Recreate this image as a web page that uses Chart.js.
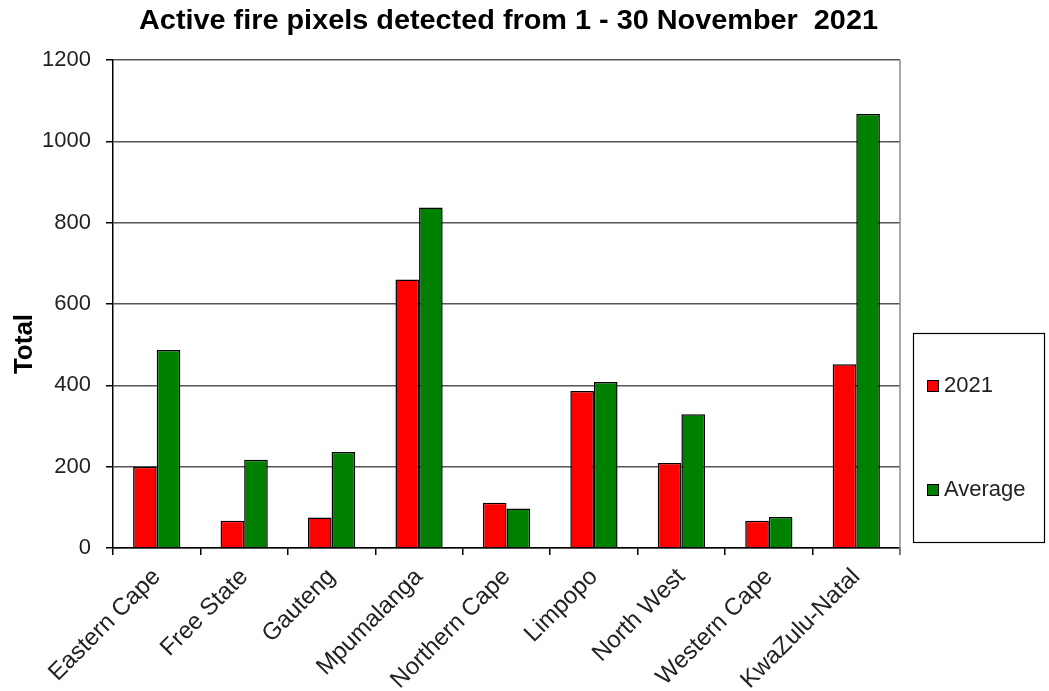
<!DOCTYPE html>
<html>
<head>
<meta charset="utf-8">
<script src="https://cdn.jsdelivr.net/npm/chart.js@4.4.0/dist/chart.umd.min.js"></script>
<style>
html,body{margin:0;padding:0;background:#fff;}
#wrap{width:1049px;height:691px;position:relative;}
</style>
</head>
<body>
<div id="wrap"><canvas id="c" width="1049" height="691"></canvas></div>
<script>
const categories = ["Eastern Cape","Free State","Gauteng","Mpumalanga","Northern Cape","Limpopo","North West","Western Cape","KwaZulu-Natal"];
const values2021 = [200, 67, 75, 660, 111, 386, 209, 67, 452];
const valuesAverage = [487, 217, 236, 837, 97, 408, 329, 76, 1067];
const yTicks = [0, 200, 400, 600, 800, 1000, 1200];
const titleText = "Active fire pixels detected from 1 - 30 November  2021";
const yTitle = "Total";

const FONT = "Arial, 'Liberation Sans', sans-serif";

const decor = {
  id: 'decor',
  afterDraw(chart) {
    const ctx = chart.ctx;
    const ca = chart.chartArea;
    ctx.save();
    // right border of plot area
    ctx.strokeStyle = '#8c8c8c';
    ctx.lineWidth = 1.5;
    ctx.beginPath();
    ctx.moveTo(ca.right, ca.top);
    ctx.lineTo(ca.right, ca.bottom + 7);
    ctx.stroke();
    // title
    ctx.fillStyle = '#000';
    ctx.font = "bold 28px " + FONT;
    ctx.textAlign = 'center';
    ctx.textBaseline = 'alphabetic';
    ctx.save();
    ctx.translate(508.5, 29);
    ctx.scale(1.03, 1);
    ctx.fillText(titleText, 0, 0);
    ctx.restore();
    // y title
    ctx.font = "bold 26px " + FONT;
    ctx.textBaseline = 'middle';
    ctx.translate(25, 344);
    ctx.rotate(-Math.PI / 2);
    ctx.fillText(yTitle, 0, 0);
    ctx.restore();
    // legend box
    ctx.save();
    ctx.strokeStyle = '#000';
    ctx.lineWidth = 1.2;
    ctx.strokeRect(913.5, 333.5, 131, 209);
    const items = chart.data.datasets;
    const ys = [386, 490];
    ctx.font = "22px " + FONT;
    ctx.textBaseline = 'middle';
    ctx.textAlign = 'left';
    items.forEach((ds, i) => {
      ctx.fillStyle = ds.backgroundColor;
      ctx.fillRect(927.5, ys[i] - 5.5, 11, 11);
      ctx.strokeStyle = '#000';
      ctx.lineWidth = 1;
      ctx.strokeRect(927.5, ys[i] - 5.5, 11, 11);
      ctx.fillStyle = '#222';
      ctx.fillText(ds.label, 944, ys[i]);
    });
    ctx.restore();
  }
};

new Chart(document.getElementById('c'), {
  type: 'bar',
  data: {
    labels: categories,
    datasets: [
      { label: '2021', data: values2021, backgroundColor: '#ff0000', borderColor: '#000', borderWidth: 1.5 },
      { label: 'Average', data: valuesAverage, backgroundColor: '#008000', borderColor: '#000', borderWidth: 1.5 }
    ]
  },
  options: {
    responsive: false,
    animation: false,
    devicePixelRatio: 1,
    layout: { padding: { top: 60, right: 149, left: 0, bottom: 0 } },
    plugins: { legend: { display: false }, title: { display: false }, tooltip: { enabled: false } },
    datasets: { bar: { categoryPercentage: 0.54, barPercentage: 1.0 } },
    scales: {
      x: {
        grid: { display: true, drawOnChartArea: false, drawTicks: true, tickLength: 7, color: '#000', lineWidth: 1.5, offset: true },
        border: { display: true, color: '#000', width: 1.5 },
        ticks: { color: '#222', font: { family: FONT, size: 24 }, minRotation: 45, maxRotation: 45, autoSkip: false, padding: 8 },
        afterFit(scale) { scale.height = 143; }
      },
      y: {
        min: 0, max: 1200,
        afterBuildTicks(scale) { scale.ticks = yTicks.map(v => ({ value: v })); },
        grid: { color: '#555', lineWidth: 1.5, drawTicks: true, tickLength: 7, tickColor: '#000' },
        border: { display: true, color: '#000', width: 1.5 },
        ticks: { color: '#222', font: { family: FONT, size: 22 }, padding: 15, callback: (v) => String(v) },
        afterFit(scale) { scale.width = 113; }
      }
    }
  },
  plugins: [decor]
});
</script>
</body>
</html>
